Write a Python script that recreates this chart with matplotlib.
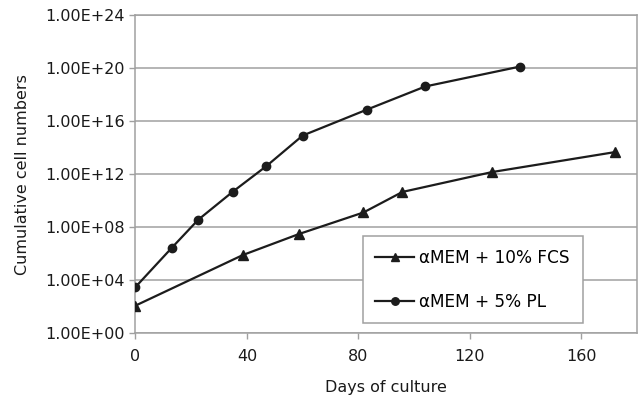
import numpy as np
import matplotlib.pyplot as plt
from matplotlib.ticker import FixedLocator, FuncFormatter, NullLocator

# values (log10 of cumulative cell numbers)
days_fcs = [0, 38.6, 58.7, 81.8, 95.8, 128, 172]
log_fcs = [2.1, 5.92, 7.5, 9.12, 10.67, 12.17, 13.67]
days_pl = [0, 13, 22.5, 35, 47, 60, 83, 104, 138]
log_pl = [3.5, 6.45, 8.57, 10.7, 12.62, 14.92, 16.87, 18.62, 20.12]

y_exps = [0, 4, 8, 12, 16, 20, 24]
x_ticks = [0, 40, 80, 120, 160]

plt.rcParams['font.family'] = ['DejaVu Sans']
plt.rcParams['font.size'] = 11.5

fig = plt.figure(figsize=(6.39, 3.97), dpi=100)
ax = fig.add_axes([0.212, 0.160, 0.785, 0.802])

line_col = '#1c1c1c'
grid_col = '#a0a0a0'

ax.plot(days_fcs, 10.0 ** np.array(log_fcs), color=line_col, lw=1.6,
        marker='^', markersize=7, label='\u03b1MEM + 10% FCS', zorder=3)
ax.plot(days_pl, 10.0 ** np.array(log_pl), color=line_col, lw=1.6,
        marker='o', markersize=6, label='\u03b1MEM + 5% PL', zorder=3)

ax.set_yscale('log')
ax.set_ylim(1, 1e24)
ax.set_xlim(0, 180)
ax.yaxis.set_major_locator(FixedLocator([10.0 ** e for e in y_exps]))
ax.yaxis.set_minor_locator(NullLocator())
ax.yaxis.set_major_formatter(FuncFormatter(lambda v, p: '1.00E+%02d' % round(np.log10(v))))
ax.set_xticks(x_ticks)

ax.grid(axis='y', color=grid_col, lw=1.1)
ax.set_axisbelow(True)
for s in ax.spines.values():
    s.set_color(grid_col)
    s.set_linewidth(1.1)
ax.tick_params(axis='both', direction='out', length=4, width=1, color=grid_col,
               labelcolor='#1a1a1a', labelsize=11.5)
ax.tick_params(axis='x', pad=7)
ax.tick_params(axis='y', pad=3.5)

ax.set_xlabel('Days of culture', labelpad=12, color='#1a1a1a')
ax.set_ylabel('Cumulative cell numbers', labelpad=11, color='#1a1a1a')

leg = ax.legend(loc='lower left', bbox_to_anchor=(0.453, 0.032), borderaxespad=0,
                frameon=True, fancybox=False, edgecolor=grid_col, framealpha=1,
                borderpad=0.75, labelspacing=1.5, handlelength=2.3,
                handletextpad=0.3, fontsize=12.2, markerscale=0.9)
leg.get_frame().set_linewidth(1.1)

fig.savefig('out.png', dpi=100)
